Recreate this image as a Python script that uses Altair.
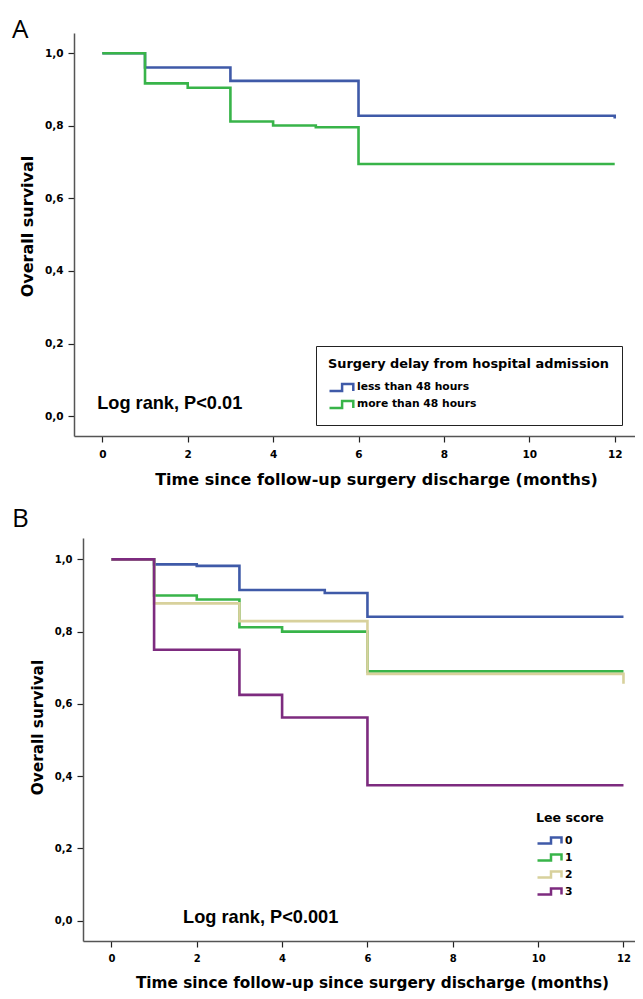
import altair as alt
import pandas as pd

# ---------------- Panel A data ----------------
a_groups = ["less than 48 hours", "more than 48 hours"]
a_less_t = [0, 1, 3, 6, 12, 12]
a_less_s = [1.0, 0.961, 0.924, 0.828, 0.828, 0.820]
a_more_t = [0, 1, 2, 3, 4, 5, 6, 12]
a_more_s = [1.0, 0.917, 0.905, 0.812, 0.801, 0.796, 0.695, 0.695]
a_colors = ["#3F5AA8", "#38B449"]

# ---------------- Panel B data ----------------
b_groups = ["0", "1", "2", "3"]
b0_t = [0, 1, 2, 3, 5, 6, 12]
b0_s = [1.0, 0.986, 0.982, 0.915, 0.907, 0.841, 0.841]
b1_t = [0, 1, 2, 3, 4, 6, 12]
b1_s = [1.0, 0.900, 0.889, 0.812, 0.800, 0.690, 0.690]
b2_t = [0, 1, 3, 6, 12, 12]
b2_s = [1.0, 0.878, 0.829, 0.683, 0.683, 0.656]
b3_t = [0, 1, 3, 4, 6, 12]
b3_s = [1.0, 0.75, 0.625, 0.5625, 0.375, 0.375]
b_colors = ["#3F5AA8", "#38B449", "#D8D19C", "#7D2B7F"]

x_ticks = [0, 2, 4, 6, 8, 10, 12]
y_ticks = [0.0, 0.2, 0.4, 0.6, 0.8, 1.0]

a_note = "Log rank, P<0.01"
b_note = "Log rank, P<0.001"


def build(groups, series):
    rows = []
    k = 0
    for g, (ts, ss) in zip(groups, series):
        for t, s in zip(ts, ss):
            rows.append({"group": g, "t": t, "s": s, "order": k})
            k += 1
    return pd.DataFrame(rows)


dfA = build(a_groups, [(a_less_t, a_less_s), (a_more_t, a_more_s)])
dfB = build(b_groups, [(b0_t, b0_s), (b1_t, b1_s), (b2_t, b2_s), (b3_t, b3_s)])

LBL = "replace(format(datum.value, '.1f'), '.', ',')"
BOLD = "DejaVu Sans"
PANEL_W = 561


def make_panel(df, groups, colors, legend, letter, letter_dx, letter_dy,
               xdom, ydom, inset, h, xtitle, x_title_x, y_title_y,
               lab_fs, title_fs, x_lab_pad, y_title_pad, note, note_x, note_y):
    xs = alt.Scale(domain=xdom, range=[inset, PANEL_W], nice=False, zero=False)
    ys = alt.Scale(domain=ydom, nice=False, zero=False)
    xaxis = alt.Axis(values=x_ticks, format="d", grid=False, labelFlush=False,
                     labelFont=BOLD, labelFontWeight="bold", labelFontSize=lab_fs,
                     labelColor="black", labelPadding=x_lab_pad, tickSize=6,
                     tickColor="#222222", tickWidth=1.2, domainColor="#555555",
                     domainWidth=1.5, title=xtitle, titleFont=BOLD,
                     titleFontWeight="bold", titleFontSize=title_fs,
                     titleColor="black", titlePadding=12, titleX=x_title_x)
    yaxis = alt.Axis(values=y_ticks, labelExpr=LBL, grid=False, offset=-inset,
                     labelFont=BOLD, labelFontWeight="bold", labelFontSize=lab_fs,
                     labelColor="black", labelPadding=5, tickSize=6,
                     tickColor="#222222", tickWidth=1.2, domainColor="#555555",
                     domainWidth=1.5, title="Overall survival", titleFont=BOLD,
                     titleFontWeight="bold", titleFontSize=title_fs,
                     titleColor="black", titlePadding=y_title_pad, titleY=y_title_y)
    lines = alt.Chart(df).mark_line(interpolate="step-after", strokeWidth=2.6,
                                    strokeJoin="miter", strokeCap="butt").encode(
        x=alt.X("t:Q", scale=xs, axis=xaxis),
        y=alt.Y("s:Q", scale=ys, axis=yaxis),
        color=alt.Color("group:N", scale=alt.Scale(domain=groups, range=colors),
                        legend=legend),
        order=alt.Order("order:Q"),
    )
    txt = alt.Chart(pd.DataFrame({"label": [note], "tx": [note_x], "ty": [note_y]})).mark_text(
        align="left", baseline="alphabetic", font="Liberation Sans",
        fontWeight="bold", fontSize=18.2, color="black").encode(
        x=alt.X("tx:Q", scale=xs), y=alt.Y("ty:Q", scale=ys), text="label:N")
    let = alt.Chart(pd.DataFrame({"label": [letter]})).mark_text(
        align="left", baseline="alphabetic", font="Open Sans",
        fontSize=26, fontWeight="normal", color="black").encode(
        x=alt.value(letter_dx), y=alt.value(letter_dy), text="label:N")
    return alt.layer(lines, txt, let).properties(width=PANEL_W, height=h)


legA = alt.Legend(title="Surgery delay from hospital admission", orient="none",
                  legendX=242, legendY=313, direction="vertical", padding=12,
                  strokeColor="#222222", titleLimit=500, labelLimit=400,
                  titleFont=BOLD, titleFontWeight="bold", titleFontSize=12.9,
                  titleColor="black", titlePadding=8, titleAnchor="start",
                  labelFont=BOLD, labelFontWeight="bold", labelFontSize=10.75,
                  labelColor="black", labelOffset=12, rowPadding=0,
                  symbolType="M-1,0.5H0.8V-0.5H2.4V0.5", symbolSize=196,
                  symbolStrokeWidth=2.5, symbolFillColor="transparent")

legB = alt.Legend(title="Lee score", orient="none",
                  legendX=462, legendY=274, direction="vertical", padding=0,
                  titleFont=BOLD, titleFontWeight="bold", titleFontSize=12.6,
                  titleColor="black", titlePadding=7, titleAnchor="start",
                  labelFont=BOLD, labelFontWeight="bold", labelFontSize=10.75,
                  labelColor="black", labelOffset=11, rowPadding=0,
                  symbolType="M-1,0.4H0.8V-0.4H2.2V0.4", symbolSize=225,
                  symbolStrokeWidth=2.5, symbolFillColor="transparent")

panelA = make_panel(dfA, a_groups, a_colors, legA, "A", -62, 4.7,
                    [-0.663, 12.475], [-0.055, 1.056], 0, 403,
                    "Time since follow-up surgery discharge (months)", 302, 193,
                    10.5, 16, 7, 9, a_note, -0.12, 0.019)

panelB = make_panel(dfB, b_groups, b_colors, legB, "B", -62, -10.7,
                    [-0.666, 12.27], [-0.056, 1.059], 9, 403,
                    "Time since follow-up since surgery discharge (months)", 298, 189,
                    10, 15.3, 6, 8.5, b_note, 1.68, -0.006)

chart = alt.vconcat(panelA, panelB, spacing=18).resolve_scale(
    x="independent", y="independent", color="independent"
).properties(
    padding={"left": 4, "top": 8, "right": 0, "bottom": 0},
    background="white",
).configure_view(stroke=None)

chart.save("out.html", embed_options={"renderer": "svg", "actions": False})
